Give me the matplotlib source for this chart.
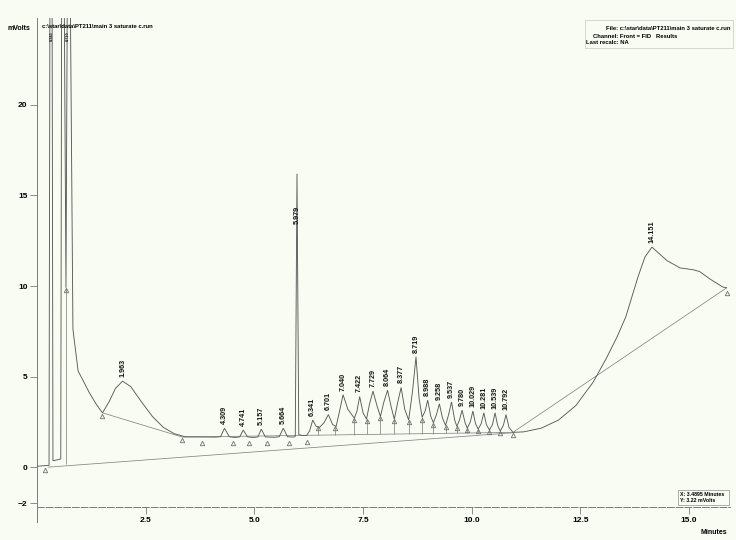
import matplotlib
matplotlib.use("Agg")
import matplotlib.pyplot as plt
from matplotlib.patches import Rectangle

plt.rcParams['font.family'] = ['Liberation Sans', 'DejaVu Sans']

# detector trace between the labelled peaks (minutes, mV)
trace_t = [0.00, 0.27, 0.29, 0.34, 0.36, 0.54, 0.56, 0.62, 0.66, 0.69, 0.76, 0.82,
           0.94, 1.05, 1.20, 1.35, 1.50, 1.65, 1.80, 2.15, 2.40, 2.65, 2.90, 3.15,
           3.40, 4.10, 4.22, 4.42, 4.55, 4.66, 4.84, 4.98, 5.08, 5.25, 5.45, 5.57,
           5.76, 5.90, 5.94, 6.02, 6.10, 6.20, 6.27, 6.42, 6.50, 6.60, 6.80, 6.88,
           6.96, 7.15, 7.30, 7.36, 7.50, 7.58, 7.65, 7.82, 7.90, 7.98, 8.15, 8.22,
           8.30, 8.46, 8.55, 8.64, 8.79, 8.86, 8.93, 9.06, 9.12, 9.19, 9.33, 9.40,
           9.47, 9.61, 9.66, 9.72, 9.85, 9.90, 9.97, 10.09, 10.15, 10.22, 10.34,
           10.41, 10.48, 10.60, 10.66, 10.73, 10.86, 10.95, 11.20, 11.60, 12.00,
           12.40, 12.80, 13.10, 13.35, 13.55, 13.83, 13.99, 14.50, 14.80, 15.10,
           15.25, 15.48, 15.78, 15.87]
trace_v = [0.05, 0.10, 26.0, 26.0, 0.35, 0.45, 26.0, 26.0, 9.9, 26.0, 26.0, 7.6,
           5.3, 4.8, 4.1, 3.5, 3.0, 3.6, 4.35, 4.45, 3.6, 2.8, 2.2, 1.85,
           1.68, 1.66, 1.68, 1.68, 1.64, 1.67, 1.67, 1.64, 1.67, 1.67, 1.65, 1.68,
           1.68, 1.66, 1.70, 1.80, 1.75, 1.75, 2.00, 2.25, 2.20, 2.45, 2.35, 2.25,
           3.10, 3.20, 2.70, 3.10, 3.00, 2.65, 3.50, 3.40, 2.80, 3.60, 3.30, 2.65,
           3.60, 3.20, 2.60, 4.20, 3.80, 2.75, 3.10, 2.80, 2.45, 2.90, 2.70, 2.30,
           2.90, 2.60, 2.25, 2.60, 2.45, 2.15, 2.50, 2.40, 2.10, 2.40, 2.35,
           2.05, 2.35, 2.30, 2.00, 2.30, 2.20, 1.92, 1.95, 2.15, 2.60,
           3.40, 4.70, 6.00, 7.20, 8.30, 10.50, 11.60, 11.40, 11.00, 10.90,
           10.80, 10.40, 9.95, 9.90]

# integrated peaks: retention time (min) and apex height (mV)
peak_times = [1.963, 4.309, 4.741, 5.157, 5.664, 5.979, 6.341, 6.701, 7.040, 7.422,
              7.729, 8.064, 8.377, 8.719, 8.988, 9.258, 9.537, 9.780, 10.029,
              10.281, 10.539, 10.792, 14.151]
peak_heights = [4.75, 2.15, 2.05, 2.10, 2.15, 16.2, 2.6, 2.9, 4.0, 3.9,
                4.2, 4.25, 4.4, 6.1, 3.7, 3.5, 3.6, 3.15, 3.1,
                3.0, 3.0, 2.9, 12.15]

# solvent peaks running off scale
solvent_times = [0.343, 0.710]

# baseline segments (t0, v0, t1, v1)
baselines = [(0.25, 0.0, 10.95, 1.90),
             (1.50, 3.0, 3.34, 1.66),
             (3.34, 1.66, 10.95, 1.92),
             (10.95, 1.92, 15.87, 9.90)]

# peak start / end markers
mark_t = [0.18, 0.66, 1.50, 3.34, 3.79, 4.51, 4.87, 5.29, 5.79, 6.21, 6.46, 6.85,
          7.30, 7.58, 7.90, 8.22, 8.55, 8.86, 9.12, 9.40, 9.66, 9.90, 10.15, 10.41,
          10.66, 10.95, 15.87]
mark_v = [-0.15, 9.8, 2.85, 1.5, 1.35, 1.35, 1.35, 1.35, 1.35, 1.4, 2.15, 2.15,
          2.6, 2.55, 2.7, 2.55, 2.5, 2.6, 2.35, 2.2, 2.15, 2.05, 2.0, 1.95,
          1.9, 1.8, 9.6]

# perpendicular drops from valleys to the baseline
drop_t = [6.20, 6.46, 6.85, 7.30, 7.58, 7.90, 8.22, 8.55, 8.86, 9.12, 9.40, 9.66,
          9.90, 10.15, 10.41, 10.66]
drop_v = [1.75, 2.2, 2.25, 2.7, 2.65, 2.8, 2.65, 2.6, 2.75, 2.45, 2.3, 2.25,
          2.15, 2.1, 2.05, 2.0]

xticks = [2.5, 5.0, 7.5, 10.0, 12.5, 15.0]
yticks = [-2, 0, 5, 10, 15, 20]


def base_c(t):
    t0, v0, t1, v1 = baselines[2]
    return v0 + (t - t0) * (v1 - v0) / (t1 - t0)


bg = '#f8fcf2'
fig = plt.figure(figsize=(7.36, 5.40), dpi=100, facecolor=bg)
ax = fig.add_axes([0.0507, 0.0611, 0.9412, 0.9056])
ax.set_facecolor(bg)
ax.set_xlim(0, 15.95)
ax.set_ylim(-2.2, 24.8)

# merge apexes into the trace
pts = sorted(list(zip(trace_t, trace_v)) + list(zip(peak_times, peak_heights)))
ax.plot([p[0] for p in pts], [p[1] for p in pts], color='#5a5a5a', lw=0.65,
        solid_joinstyle='miter', zorder=3)

for t0, v0, t1, v1 in baselines:
    ax.plot([t0, t1], [v0, v1], color='#858585', lw=0.55, zorder=2)

ax.vlines(drop_t, [base_c(t) for t in drop_t], drop_v, color='#858585', lw=0.55, zorder=2)
ax.vlines([0.66], [0.2], [9.9], color='#858585', lw=0.55, zorder=2)

ax.plot(mark_t, mark_v, ls='none', marker='^', ms=3.2, mfc='none', mec='#707070',
        mew=0.6, zorder=4)

lbl = dict(rotation=90, fontsize=5.2, fontweight='bold', color='#151515')
for t, v in zip(peak_times, peak_heights):
    if t == 5.979:
        ax.text(t, 13.9, f"{t:.3f}", ha='center', va='center', zorder=5, **lbl)
    else:
        ax.annotate(f"{t:.3f}", xy=(t, v), xytext=(0, 3), textcoords='offset points',
                    ha='center', va='bottom', zorder=5, **lbl)

# tiny labels for the off-scale solvent peaks, just under the header line
for t in solvent_times:
    ax.annotate(f"{t:.3f}", xy=(t, 1), xycoords=('data', 'axes fraction'),
                xytext=(0, -9.5), textcoords='offset points', ha='center', va='top',
                rotation=90, fontsize=2.8, fontweight='bold', color='#151515')

# axes styling
for s in ('top', 'right', 'left'):
    ax.spines[s].set_visible(False)
ax.spines['bottom'].set_color('#7a7a7a')
ax.spines['bottom'].set_linewidth(0.7)
ax.spines['bottom'].set_linestyle((0, (7, 2)))
ax.plot([0, 0], [-0.03, 1.0], transform=ax.transAxes, color='#7a7a7a', lw=0.7,
        clip_on=False)

ax.set_xticks(xticks)
ax.set_xticklabels([f"{x:.1f}" for x in xticks])
ax.set_yticks(yticks)
ax.tick_params(axis='both', direction='out', length=5, width=0.6, color='#7a7a7a',
               labelsize=6, pad=2)
for t in ax.get_xticklabels() + ax.get_yticklabels():
    t.set_fontweight('bold')

# header and footer texts
fig.text(7 / 736, 1 - 28 / 540, 'mVolts', fontsize=5, fontweight='bold', va='center')
fig.text(42 / 736, 1 - 27 / 540, r'c:\star\data\PT211\main 3 saturate c.run',
         fontsize=4.2, fontweight='bold', va='center')
fig.patches.append(Rectangle((585 / 736, 1 - 48 / 540), 148 / 736, 28 / 540,
                             transform=fig.transFigure, fill=False, ec='#c8c8c8', lw=0.5))
fig.text(730 / 736, 1 - 29 / 540, r'File: c:\star\data\PT211\main 3 saturate c.run',
         fontsize=4.2, fontweight='bold', ha='right', va='center')
fig.text(593 / 736, 1 - 36 / 540, 'Channel: Front = FID   Results',
         fontsize=4.2, fontweight='bold', va='center')
fig.text(586 / 736, 1 - 43 / 540, 'Last recalc: NA',
         fontsize=4.2, fontweight='bold', va='center')

fig.patches.append(Rectangle((678 / 736, 1 - 505 / 540), 51 / 736, 15 / 540,
                             transform=fig.transFigure, fill=False, ec='#909090', lw=0.5))
fig.text(680 / 736, 1 - 494 / 540, 'X: 3.4895 Minutes', fontsize=3.8,
         fontweight='bold', va='center')
fig.text(680 / 736, 1 - 501 / 540, 'Y: 3.22 mVolts', fontsize=3.8,
         fontweight='bold', va='center')
fig.text(714 / 736, 1 - 533 / 540, 'Minutes', fontsize=5, fontweight='bold',
         ha='center', va='center')

fig.savefig('out.png', dpi=100, facecolor=bg)
